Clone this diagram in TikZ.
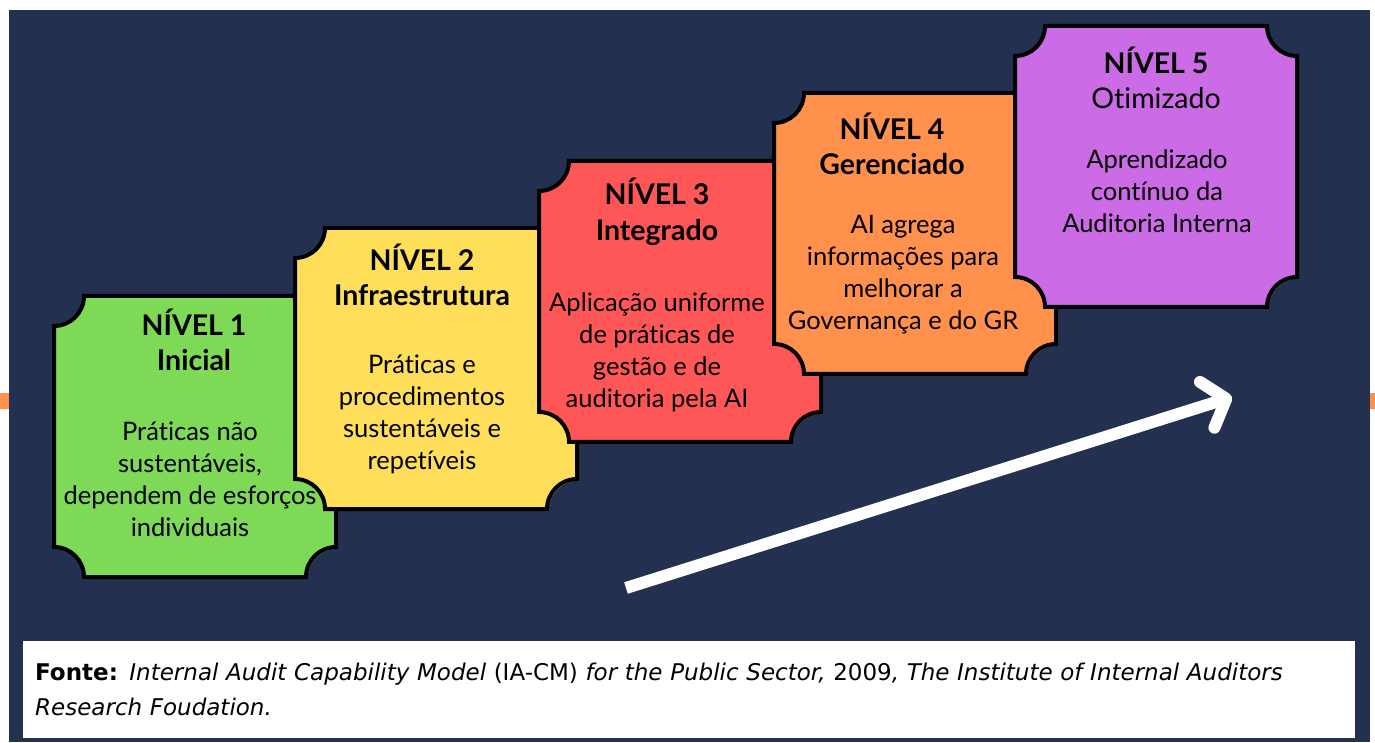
\documentclass[tikz,border=0pt]{standalone}
\usepackage{fontspec}
\setmainfont{Lato}[Ligatures=NoCommon]
\newfontfamily\srcfont{DejaVu Sans}
\usetikzlibrary{arrows.meta,positioning,calc}
\definecolor{navy}{HTML}{233050}
\definecolor{lvlgreen}{HTML}{7ED957}
\definecolor{lvlyellow}{HTML}{FFDE59}
\definecolor{lvlred}{HTML}{FF5757}
\definecolor{lvlorange}{HTML}{FF914D}
\definecolor{lvlpurple}{HTML}{CB6CE6}

\begin{document}
\begin{tikzpicture}[x=1pt,y=1pt,
    title/.style={align=center,inner sep=0pt,font=\fontsize{28.5}{35.5}\selectfont\bfseries},
    desc/.style={align=center,inner sep=0pt,font=\fontsize{25.5}{32}\selectfont},
    card/.style={fill=#1,draw=black,line width=4pt,
                 preaction={fill=#1,transform canvas={shift={(1.5pt,-1.5pt)}}}}]
  \useasboundingbox (0,0) rectangle (1375,742);
  \fill[navy] (9,0) rectangle (1370,732);
  % little tabs on the sides
  \fill[lvlorange] (0,333) rectangle (9,349);
  \fill[lvlorange] (1370,333) rectangle (1375,349);

  % notched cards, each one laid over the one before
  \foreach \lx/\ty/\col in {54/446/lvlgreen,295/514/lvlyellow,539/581/lvlred,
                            774/649/lvlorange,1015/716/lvlpurple}{
    \pgfmathsetmacro{\rx}{\lx+282}
    \pgfmathsetmacro{\by}{\ty-281}
    \path[card=\col] ({\lx+30},\ty) -- ({\rx-30},\ty)
      arc[start angle=180,end angle=270,radius=30pt] -- (\rx,{\by+30})
      arc[start angle=90,end angle=180,radius=30pt] -- ({\lx+30},\by)
      arc[start angle=0,end angle=90,radius=30pt] -- (\lx,{\ty-30})
      arc[start angle=270,end angle=360,radius=30pt] -- cycle;
  }

  \node[title] (t1) at (194,402) {NÍVEL 1\\Inicial};
  \node[desc] (d1) at (190,263) {Práticas não\\sustentáveis,\\dependem de esforços\\individuais};
  \node[title] (t2) at (422,467) {NÍVEL 2\\Infraestrutura};
  \node[desc] (d2) at (422,328) {Práticas e\\procedimentos\\sustentáveis e\\repetíveis};
  \node[title] (t3) at (657,530) {NÍVEL 3\\Integrado};
  \node[desc] (d3) at (657,390) {Aplicação uniforme\\de práticas de\\gestão e de\\auditoria pela AI};
  \node[title] (t4) at (892,598) {NÍVEL 4\\Gerenciado};
  \node[desc] (d4) at (903,467) {AI agrega\\informações para\\melhorar a\\Governança e do GR};
  \node[title] (t5) at (1156,664) {NÍVEL 5\\\mdseries Otimizado};
  \node[desc] (d5) at (1157,551) {Aprendizado\\contínuo da\\Auditoria Interna};

  % rising arrow
  \coordinate (a0) at (626,154);
  \coordinate (a1) at (1232,345);
  \draw[white,line width=12pt,-{Straight Barb[length=20pt,width=48pt,round]}] (a0) -- (a1);

  % source line
  \node[fill=white,anchor=north west,minimum width=1332pt,minimum height=97pt,
        text width=1308pt,inner xsep=12pt,align=left,
        font=\srcfont\fontsize{23}{35}\selectfont] (src) at (23,101)
    {\textbf{Fonte:} \textit{Internal Audit Capability Model} (IA-CM) \textit{for the Public Sector,} 2009\textit{, The Institute of Internal Auditors}\\
     \textit{Research Foudation.}};
\end{tikzpicture}
\end{document}
